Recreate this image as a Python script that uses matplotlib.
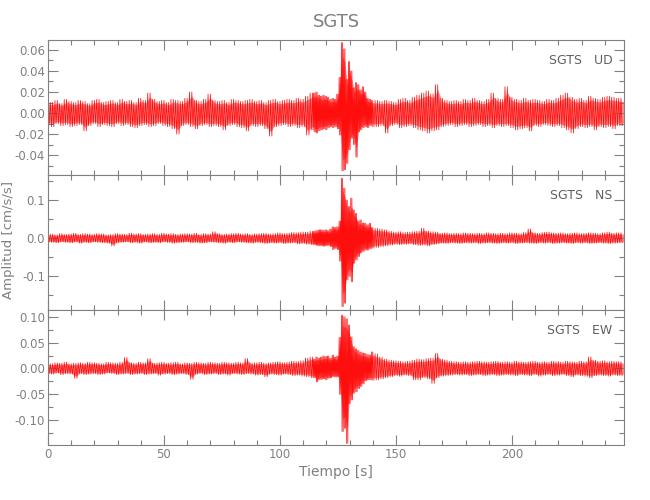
import numpy as np
import matplotlib
matplotlib.use("Agg")
import matplotlib.pyplot as plt
from matplotlib.ticker import MultipleLocator, FormatStrFormatter

plt.rcParams['font.family'] = ['DejaVu Sans']

# ---- data (envelope of each trace, units of 0.001 cm/s/s) ----
t_a = np.arange(0, 115, 2)      # 0..114 s
t_b = np.arange(115, 141, 1)    # 115..140 s (event)
t_c = np.arange(142, 247, 2)    # 142..246 s

ud_hi_a = [11,10,12,9,13,11,10,12,11,9, 12,13,10,11,12,10,13,11,12,10,
           14,12,19,13,11,12,10,13,12,11, 14,20,12,11,13,18,12,11,12,10,
           13,12,11,12,13,11,12,10,12,13, 11,12,13,12,14,13,16,19]
ud_lo_a = [-11,-13,-10,-12,-11,-13,-12,-11,-17,-12, -10,-13,-11,-12,-13,-10,-12,-11,-13,-14,
           -12,-11,-13,-12,-10,-12,-13,-15,-20,-12, -11,-13,-15,-12,-11,-13,-12,-13,-16,-12,
           -11,-13,-14,-17,-12,-13,-12,-15,-22,-13, -12,-11,-13,-12,-14,-13,-21,-16]
ud_hi_b = [19,20,17,16,17,16,15,13,14,13, 18,34,67,61,32,49,40,24,29,27, 22,25,20,14,13,12]
ud_lo_b = [-18,-19,-17,-16,-15,-16,-14,-13,-14,-13, -15,-21,-55,-54,-48,-35,-24,-30,-42,-18,
           -16,-14,-13,-14,-12,-13]
ud_hi_c = [12,11,12,11,10,13,14,12,15,17, 19,21,18,27,14,12,11,12,11,13,
           12,14,12,11,13,19,14,13,25,15, 13,12,14,12,13,12,11,13,12,14,
           17,19,15,13,14,12,16,14,13,15, 16,15,14]
ud_lo_c = [-13,-12,-19,-12,-11,-14,-13,-12,-14,-16, -17,-19,-17,-16,-13,-12,-11,-13,-12,-11,
           -13,-12,-11,-13,-12,-14,-12,-13,-12,-14, -16,-15,-14,-17,-12,-13,-11,-12,-13,-12,
           -14,-16,-19,-15,-13,-14,-13,-16,-13,-14, -13,-15,-12]

ns_hi_a = [10,11,9,12,10,11,13,10,12,11, 10,12,11,9,10,12,11,10,13,11,
           12,10,11,12,10,13,11,12,10,11, 12,11,13,10,12,11,17,12,10,11,
           12,13,11,12,10,11,12,13,11,12, 14,12,13,15,14,16,16,18]
ns_lo_a = [-10,-11,-12,-10,-11,-12,-10,-13,-11,-12, -10,-11,-12,-13,-20,-12,-11,-10,-12,-11,
           -13,-10,-12,-11,-12,-10,-11,-13,-12,-11, -10,-12,-11,-13,-12,-10,-11,-12,-13,-11,
           -12,-10,-11,-12,-13,-11,-12,-14,-12,-13, -12,-14,-13,-12,-15,-14,-16,-17]
ns_hi_b = [18,20,22,22,21,22,20,24,30,28, 30,45,157,131,100,83,105,74,65,45, 48,40,39,35,39,28]
ns_lo_b = [-17,-19,-20,-20,-21,-20,-19,-22,-30,-27, -30,-60,-179,-170,-109,-100,-114,-66,-57,-48,
           -39,-35,-31,-31,-28,-26]
ns_hi_c = [26,24,22,18,16,17,15,16,17,18, 26,19,17,16,13,14,12,13,12,14,
           13,12,13,12,14,13,12,13,12,14, 13,12,15,24,14,13,15,16,14,13,
           14,12,13,14,12,13,14,13,12,14, 16,13,14]
ns_lo_c = [-24,-22,-20,-18,-16,-17,-16,-15,-17,-19, -18,-20,-17,-15,-13,-14,-12,-13,-14,-12,
           -13,-12,-14,-13,-12,-13,-14,-12,-13,-12, -14,-13,-12,-13,-14,-12,-13,-12,-14,-13,
           -12,-13,-14,-12,-13,-12,-14,-13,-12,-13, -14,-13,-12]

ew_hi_a = [10,9,11,10,12,9,10,11,10,12, 11,10,9,12,11,10,12,21,11,10,
           12,11,19,10,11,12,10,11,12,9, 11,10,12,11,10,12,11,10,12,11,
           10,12,11,19,10,11,12,10,11,12, 13,11,12,14,13,15,20,22]
ew_lo_a = [-10,-11,-9,-12,-10,-11,-19,-10,-12,-11, -10,-12,-11,-9,-10,-12,-11,-10,-12,-11,
           -10,-12,-11,-10,-13,-11,-10,-12,-11,-10, -12,-21,-11,-10,-12,-11,-10,-12,-11,-13,
           -10,-11,-12,-10,-11,-13,-12,-16,-11,-12, -13,-11,-12,-14,-13,-15,-16,-18]
ew_hi_b = [18,22,20,22,24,23,24,20,26,22, 24,60,103,100,96,84,61,42,38,35, 32,30,29,27,26,32]
ew_lo_b = [-18,-26,-22,-21,-20,-22,-19,-18,-16,-17, -16,-50,-122,-116,-145,-68,-61,-48,-45,-39,
           -35,-30,-24,-22,-22,-23]
ew_hi_c = [28,22,18,16,15,14,13,14,16,18, 17,19,20,29,18,16,14,13,12,13,
           12,13,14,13,12,13,14,12,13,12, 14,13,12,13,14,12,13,12,14,13,
           12,14,13,12,14,13,22,16,14,15, 13,14,13]
ew_lo_c = [-22,-20,-18,-16,-14,-15,-13,-14,-22,-22, -18,-20,-29,-18,-15,-14,-13,-12,-13,-12,
           -14,-13,-12,-14,-13,-12,-14,-13,-12,-13, -14,-12,-13,-14,-12,-15,-13,-12,-14,-13,
           -12,-14,-16,-13,-14,-15,-18,-14,-13,-14, -15,-13,-14]

components = ["UD", "NS", "EW"]
station = "SGTS"
ylims = [(-0.059, 0.0695), (-0.188, 0.1655), (-0.148, 0.113)]
ymajor = [0.02, 0.1, 0.05]
yminor = [0.01, 0.05, 0.025]
yfmt = ['%.2f', '%.1f', '%.2f']
x_max = 248.3

env = {
    "UD": (ud_hi_a + ud_hi_b + ud_hi_c, ud_lo_a + ud_lo_b + ud_lo_c),
    "NS": (ns_hi_a + ns_hi_b + ns_hi_c, ns_lo_a + ns_lo_b + ns_lo_c),
    "EW": (ew_hi_a + ew_hi_b + ew_hi_c, ew_lo_a + ew_lo_b + ew_lo_c),
}

t = np.concatenate([t_a, t_b, t_c]).astype(float)
dt = np.append(np.diff(t), 2.0)

gray = '#808080'
fig = plt.figure(figsize=(6.5, 5.0), dpi=100)
left, width = 48 / 650, 576 / 650
h = 135 / 500
bottoms = [0.11 + 2 * h, 0.11 + h, 0.11]

axes = []
for i, comp in enumerate(components):
    ax = fig.add_axes([left, bottoms[i], width, h])
    hi, lo = env[comp]
    hi = np.array(hi) * 1e-3
    lo = np.array(lo) * 1e-3
    # trace drawn as a dense zig-zag between the read maxima and minima
    xs = np.empty(4 * len(t)); ys = np.empty(4 * len(t))
    xs[0::4] = t
    xs[1::4] = t + dt * 0.25
    xs[2::4] = t + dt * 0.5
    xs[3::4] = t + dt * 0.75
    ys[0::4] = hi
    ys[1::4] = lo
    ys[2::4] = np.append(hi[1:], hi[-1])
    ys[3::4] = np.append(lo[1:], lo[-1])
    tt = np.append(t, x_max)
    ax.fill_between(tt, np.append(lo, lo[-1]) * 0.8, np.append(hi, hi[-1]) * 0.8,
                    color='#ff3030', lw=0, alpha=0.55)
    ax.plot(xs, ys, color='#ff0000', lw=0.55, alpha=0.9)
    ax.set_xlim(0, x_max)
    ax.set_ylim(*ylims[i])
    ax.xaxis.set_major_locator(MultipleLocator(50))
    ax.xaxis.set_minor_locator(MultipleLocator(10))
    ax.yaxis.set_major_locator(MultipleLocator(ymajor[i]))
    ax.yaxis.set_minor_locator(MultipleLocator(yminor[i]))
    ax.yaxis.set_major_formatter(FormatStrFormatter(yfmt[i]))
    ax.tick_params(which='both', direction='in', top=True, right=True,
                   color=gray, labelcolor=gray, labelsize=8.5, width=0.8, pad=2)
    ax.tick_params(which='major', length=7)
    ax.tick_params(which='minor', length=3.5)
    for s in ax.spines.values():
        s.set_color(gray); s.set_linewidth(0.8)
    if i < 2:
        ax.tick_params(labelbottom=False)
    ax.text(0.98, 0.845, f"{station}   {comp}", transform=ax.transAxes,
            ha='right', va='center', color='#606060', fontsize=9)
    axes.append(ax)

axes[2].set_xlabel("Tiempo [s]", color=gray, fontsize=10, labelpad=3)
fig.text(336 / 650, 1 - 22 / 500, station, ha='center', va='center', color=gray, fontsize=13)
fig.text(9 / 650, 0.52, "Amplitud [cm/s/s]", rotation=90, ha='center', va='center',
         color=gray, fontsize=9.5)

fig.savefig("out.png", dpi=100)
